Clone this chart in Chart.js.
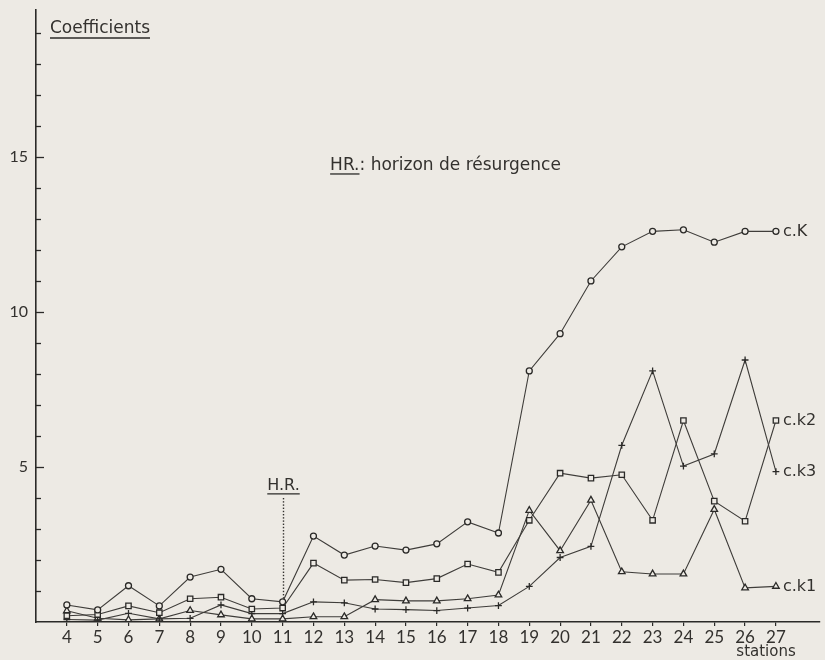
<!DOCTYPE html>
<html>
<head>
<meta charset="utf-8">
<script src="https://cdn.jsdelivr.net/npm/chart.js@4.4.1/dist/chart.umd.min.js"></script>
<style>
  html, body { margin: 0; padding: 0; background: #edeae4; }
  #wrap { width: 825px; height: 660px; }
</style>
</head>
<body>
<div id="wrap"><canvas id="c" width="825" height="660"></canvas></div>
<script>
// Stations along the profile
const stations = [4, 5, 6, 7, 8, 9, 10, 11, 12, 13, 14, 15, 16, 17, 18, 19, 20, 21, 22, 23, 24, 25, 26, 27];

// Coefficients per station
const cK  = [0.55, 0.39, 1.17, 0.52, 1.45, 1.70, 0.75, 0.65, 2.77, 2.16, 2.45, 2.32, 2.52, 3.23, 2.87, 8.10, 9.30, 11.0, 12.1, 12.6, 12.65, 12.25, 12.6, 12.6];
const ck2 = [0.20, 0.24, 0.52, 0.30, 0.75, 0.80, 0.42, 0.45, 1.90, 1.35, 1.37, 1.27, 1.40, 1.87, 1.60, 3.28, 4.80, 4.64, 4.75, 3.28, 6.50, 3.90, 3.25, 6.50];
const ck3 = [0.08, 0.06, 0.28, 0.10, 0.12, 0.55, 0.27, 0.27, 0.65, 0.62, 0.42, 0.40, 0.37, 0.45, 0.53, 1.15, 2.08, 2.44, 5.70, 8.10, 5.03, 5.42, 8.45, 4.85];
const ck1 = [0.36, 0.12, 0.07, 0.10, 0.37, 0.23, 0.10, 0.10, 0.17, 0.17, 0.72, 0.68, 0.68, 0.75, 0.87, 3.60, 2.30, 3.93, 1.62, 1.55, 1.55, 3.63, 1.10, 1.15];

// Y tick labels shown on the axis
const yLabels = [5, 10, 15];
const hrStation = 11;

const paper = '#edeae4';
const ink = '#2b2a28';
const lineInk = '#3f3d3a';
const TICKFONT = 'Lato, "Open Sans", "DejaVu Sans", sans-serif';
const TEXTFONT = '"DejaVu Sans", Lato, sans-serif';

function series(label, values, style, radius) {
  return {
    label,
    data: stations.map((s, i) => ({ x: s, y: values[i] })),
    borderColor: lineInk,
    borderWidth: 1.1,
    pointStyle: style,
    pointRadius: radius,
    pointBorderColor: ink,
    pointBackgroundColor: paper,
    pointBorderWidth: 1.3,
    tension: 0,
    fill: false
  };
}

const datasets = [
  series('c.K', cK, 'circle', 3),
  series('c.k2', ck2, 'rect', 3.8),
  series('c.k3', ck3, 'cross', 3.4),
  series('c.k1', ck1, 'triangle', 3.8)
];

function underlineText(ctx, text, x, y, offset) {
  ctx.fillText(text, x, y);
  const w = ctx.measureText(text).width;
  ctx.beginPath();
  ctx.moveTo(x, y + offset);
  ctx.lineTo(x + w, y + offset);
  ctx.stroke();
  return w;
}

const annotations = {
  id: 'annotations',
  beforeDraw(chart) {
    const ctx = chart.ctx;
    ctx.save();
    ctx.fillStyle = paper;
    ctx.fillRect(0, 0, chart.width, chart.height);
    ctx.restore();
  },
  afterDraw(chart) {
    const ctx = chart.ctx;
    const xs = chart.scales.x, ys = chart.scales.y;
    const area = chart.chartArea;
    ctx.save();
    ctx.fillStyle = '#33312e';
    ctx.strokeStyle = ink;
    ctx.textBaseline = 'alphabetic';

    // inward tick marks on the value axis
    ctx.lineWidth = 1.3;
    for (let v = 1; v <= 19; v++) {
      const y = Math.round(ys.getPixelForValue(v)) + 0.5;
      const len = v % 5 === 0 ? 8 : 5;
      ctx.beginPath();
      ctx.moveTo(area.left, y);
      ctx.lineTo(area.left + len, y);
      ctx.stroke();
    }

    // axis title
    ctx.lineWidth = 1.3;
    ctx.font = '17px ' + TEXTFONT;
    underlineText(ctx, 'Coefficients', area.left + 14, area.top + 23, 5);

    // legend note
    ctx.font = '17px ' + TEXTFONT;
    const nx = xs.getPixelForValue(12.54), ny = ys.getPixelForValue(14.58);
    const w = underlineText(ctx, 'HR.', nx, ny, 4);
    ctx.fillText(': horizon de résurgence', nx + w, ny);

    // resurgence horizon marker
    const hx = Math.round(xs.getPixelForValue(hrStation)) + 0.5;
    const yTop = ys.getPixelForValue(4.0), yBot = ys.getPixelForValue(0.75);
    for (let y = yTop; y < yBot; y += 3.2) {
      ctx.fillRect(hx - 0.7, y, 1.4, 1.4);
    }
    ctx.font = '16px ' + TEXTFONT;
    ctx.textAlign = 'center';
    const hrw = ctx.measureText('H.R.').width;
    const hry = ys.getPixelForValue(4.26);
    ctx.fillText('H.R.', hx, hry);
    ctx.beginPath();
    ctx.moveTo(hx - hrw / 2, hry + 4);
    ctx.lineTo(hx + hrw / 2, hry + 4);
    ctx.stroke();

    // series names at the last station
    ctx.textAlign = 'left';
    ctx.textBaseline = 'middle';
    ctx.font = '16px ' + TEXTFONT;
    const last = stations.length - 1;
    const lx = xs.getPixelForValue(stations[last]) + 7;
    [['c.K', cK], ['c.k2', ck2], ['c.k3', ck3], ['c.k1', ck1]].forEach(([name, vals]) => {
      ctx.fillText(name, lx, ys.getPixelForValue(vals[last]) + 0.5);
    });

    // x-axis name
    ctx.textAlign = 'center';
    ctx.textBaseline = 'alphabetic';
    ctx.font = '15px ' + TEXTFONT;
    ctx.fillText('stations', xs.getPixelForValue(26.68), chart.height - 4);
    ctx.restore();
  }
};

new Chart(document.getElementById('c'), {
  type: 'line',
  data: { datasets },
  plugins: [annotations],
  options: {
    responsive: false,
    animation: false,
    events: [],
    layout: { padding: { top: 10, right: 0, left: 0, bottom: 0 } },
    plugins: { legend: { display: false }, tooltip: { enabled: false } },
    scales: {
      x: {
        type: 'linear',
        min: 3,
        max: 28.42,
        afterBuildTicks: s => { s.ticks = stations.map(v => ({ value: v })); },
        afterFit: s => { s.height = 38; s.paddingLeft = 0; s.paddingRight = 0; },
        grid: { drawOnChartArea: false, drawTicks: true, tickLength: 4, color: ink, lineWidth: 1.2 },
        border: { color: ink, width: 1.6 },
        ticks: {
          color: '#33312e',
          font: { family: TICKFONT, size: 17 },
          padding: 1,
          maxRotation: 0,
          autoSkip: false,
          callback: v => String(v)
        }
      },
      y: {
        type: 'linear',
        min: 0,
        max: 19.74,
        afterBuildTicks: s => { s.ticks = yLabels.map(v => ({ value: v })); },
        afterFit: s => { s.width = 36; s.paddingTop = 0; s.paddingBottom = 0; },
        grid: { drawOnChartArea: false, drawTicks: false },
        border: { color: ink, width: 1.6 },
        ticks: {
          color: '#33312e',
          font: { family: TICKFONT, size: 16 },
          padding: 8,
          callback: v => String(v)
        }
      }
    }
  }
});
</script>
</body>
</html>
